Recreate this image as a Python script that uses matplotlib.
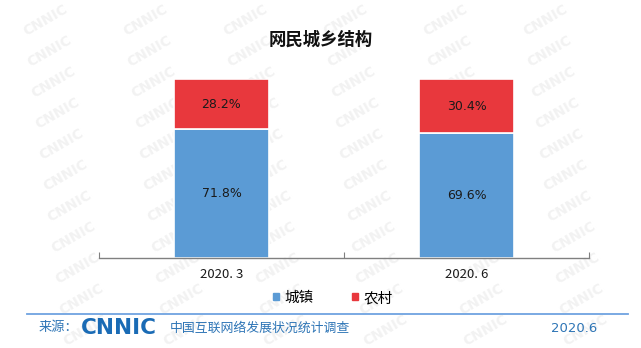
import matplotlib
matplotlib.use("Agg")
import matplotlib.pyplot as plt
from matplotlib.patches import Patch

plt.rcParams['font.family'] = ['Noto Sans CJK SC', 'DejaVu Sans']

# data
periods = ['2020. 3', '2020. 6']
series_names = ['城镇', '农村']
urban = [71.8, 69.6]
rural = [28.2, 30.4]

BLUE = '#5B9BD5'
RED = '#E8383D'
W, H = 641, 348

fig = plt.figure(figsize=(W / 100, H / 100), dpi=100)

# faint tiled watermark behind everything, kept inside the canvas
for row in range(12):
    for col in range(-1, 7):
        px = col * 100 + row * 4 + 45
        py = row * 31 + 20
        if not (24 <= px <= W - 24 and 14 <= py <= H - 14):
            continue
        fig.text(px / W, 1 - py / H, 'CNNIC', fontsize=10, fontweight='bold', color='#f2f2f2',
                 rotation=30, ha='center', va='center', family='DejaVu Sans', zorder=-5)

ax = fig.add_axes([99 / W, 90 / H, 490 / W, 179 / H])
ax.patch.set_alpha(0)

xs = range(len(periods))
ax.bar(xs, urban, width=0.39, color=BLUE, edgecolor='white', linewidth=1.2, zorder=2)
ax.bar(xs, rural, width=0.39, bottom=urban, color=RED, edgecolor='white', linewidth=1.2, zorder=2)

for x, u, r in zip(xs, urban, rural):
    ax.text(x, u / 2, f'{u}%', ha='center', va='center', fontsize=9, color='#1a1a1a',
            family='DejaVu Sans', zorder=3)
    ax.text(x, u + r / 2, f'{r}%', ha='center', va='center', fontsize=9, color='#1a1a1a',
            family='DejaVu Sans', zorder=3)

ax.set_xlim(-0.5, 1.5)
ax.set_ylim(0, 100)
for side in ['top', 'right', 'left']:
    ax.spines[side].set_visible(False)
ax.spines['bottom'].set_color('#808080')
ax.spines['bottom'].set_linewidth(1.0)
ax.set_yticks([])
ax.set_xticks([-0.5, 0.5, 1.5])
ax.set_xticklabels([])
ax.tick_params(axis='x', which='major', direction='in', length=4, color='#808080')
ax.set_xticks(list(xs), minor=True)
ax.set_xticklabels(periods, minor=True, fontsize=9.5, color='#1a1a1a')
ax.tick_params(axis='x', which='minor', length=0, pad=7)

fig.text(0.5, 1 - 40 / H, '网民城乡结构', ha='center', va='center', fontsize=12.5,
         fontweight='bold', color='#111111')

handles = [Patch(color=BLUE), Patch(color=RED)]
fig.legend(handles, series_names, loc='center', bbox_to_anchor=(333 / W, 1 - 298 / H),
           ncol=2, frameon=False, fontsize=10.5, handlelength=0.4, handleheight=0.4,
           handletextpad=0.4, columnspacing=2.6)

# footer
fig.add_artist(plt.Line2D([27 / W, 628 / W], [1 - 314 / H] * 2, color='#6FA3E0',
                          linewidth=1.3))
fig.text(39 / W, 1 - 328 / H, '来源：', fontsize=9.5, color='#2E75B6', va='center')
fig.text(81 / W, 1 - 328 / H, 'CNNIC', fontsize=15.5, fontweight='heavy', color='#1A6BB5',
         va='center', family='DejaVu Sans')
fig.text(170 / W, 1 - 328 / H, '中国互联网络发展状况统计调查', fontsize=9.3, color='#2E75B6',
         va='center')
fig.text(597 / W, 1 - 328 / H, '2020.6', fontsize=9.5, color='#2E75B6', va='center',
         ha='right', family='DejaVu Sans')

fig.savefig('out.png', dpi=100)
